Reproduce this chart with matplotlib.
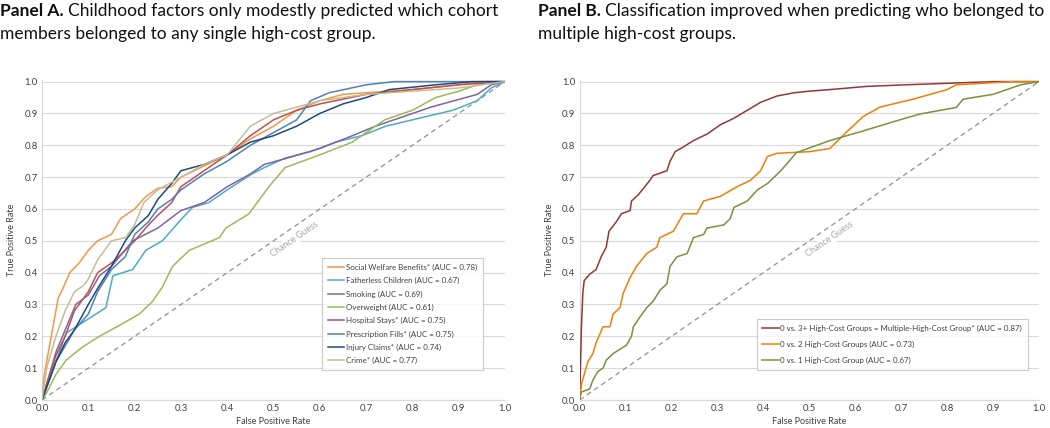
import matplotlib
matplotlib.use("Agg")
import matplotlib.pyplot as plt

plt.rcParams['font.family'] = ['Lato', 'DejaVu Sans']

# ---- Panel A data: ROC curves (false positive rate, true positive rate)
welfare_x = [0, 0.005, 0.01, 0.02, 0.03, 0.035, 0.045, 0.06, 0.08, 0.1, 0.12, 0.15, 0.17, 0.2, 0.225, 0.25, 0.28, 0.3, 0.35, 0.4, 0.45, 0.5, 0.55, 0.6, 0.65, 0.7, 0.8, 0.9, 0.95, 1.0]
welfare_y = [0, 0.08, 0.12, 0.2, 0.28, 0.32, 0.35, 0.40, 0.43, 0.47, 0.50, 0.52, 0.57, 0.60, 0.64, 0.665, 0.67, 0.70, 0.735, 0.77, 0.82, 0.86, 0.91, 0.94, 0.96, 0.965, 0.975, 0.99, 1.0, 1.0]

father_x = [0, 0.01, 0.03, 0.052, 0.095, 0.138, 0.153, 0.196, 0.224, 0.26, 0.296, 0.325, 0.36, 0.4, 0.453, 0.48, 0.525, 0.58, 0.634, 0.69, 0.742, 0.8, 0.887, 0.94, 0.97, 1.0]
father_y = [0, 0.04, 0.12, 0.21, 0.25, 0.29, 0.39, 0.41, 0.47, 0.50, 0.56, 0.605, 0.62, 0.66, 0.71, 0.73, 0.76, 0.78, 0.81, 0.83, 0.86, 0.88, 0.91, 0.94, 0.98, 1.0]

smoking_x = [0, 0.01, 0.03, 0.05, 0.073, 0.1, 0.124, 0.15, 0.196, 0.25, 0.3, 0.35, 0.4, 0.45, 0.48, 0.53, 0.6, 0.67, 0.72, 0.78, 0.84, 0.89, 0.94, 0.97, 1.0]
smoking_y = [0, 0.05, 0.15, 0.22, 0.30, 0.33, 0.39, 0.42, 0.50, 0.54, 0.595, 0.62, 0.67, 0.71, 0.74, 0.76, 0.79, 0.83, 0.86, 0.89, 0.92, 0.94, 0.96, 0.99, 1.0]

overweight_x = [0, 0.009, 0.03, 0.052, 0.088, 0.124, 0.174, 0.21, 0.239, 0.26, 0.282, 0.318, 0.383, 0.397, 0.447, 0.49, 0.525, 0.6, 0.67, 0.74, 0.8, 0.85, 0.9, 0.96, 1.0]
overweight_y = [0, 0.02, 0.08, 0.125, 0.167, 0.20, 0.24, 0.27, 0.31, 0.355, 0.42, 0.47, 0.51, 0.54, 0.585, 0.67, 0.73, 0.77, 0.81, 0.88, 0.91, 0.95, 0.97, 1.0, 1.0]

hospital_x = [0, 0.01, 0.03, 0.05, 0.07, 0.1, 0.12, 0.15, 0.18, 0.2, 0.23, 0.25, 0.28, 0.3, 0.35, 0.4, 0.45, 0.5, 0.55, 0.6, 0.7, 0.8, 0.9, 1.0]
hospital_y = [0, 0.05, 0.14, 0.2, 0.28, 0.34, 0.40, 0.43, 0.47, 0.50, 0.55, 0.58, 0.62, 0.67, 0.72, 0.77, 0.83, 0.88, 0.91, 0.93, 0.96, 0.975, 0.99, 1.0]

prescr_x = [0, 0.01, 0.03, 0.05, 0.07, 0.1, 0.12, 0.15, 0.18, 0.2, 0.23, 0.25, 0.28, 0.3, 0.35, 0.4, 0.45, 0.5, 0.55, 0.58, 0.62, 0.7, 0.76, 0.9, 1.0]
prescr_y = [0, 0.04, 0.12, 0.17, 0.22, 0.27, 0.34, 0.41, 0.45, 0.52, 0.56, 0.60, 0.63, 0.66, 0.71, 0.75, 0.80, 0.84, 0.88, 0.94, 0.965, 0.99, 1.0, 1.0, 1.0]

injury_x = [0, 0.01, 0.03, 0.05, 0.07, 0.1, 0.12, 0.15, 0.18, 0.2, 0.23, 0.25, 0.28, 0.3, 0.35, 0.4, 0.45, 0.5, 0.55, 0.6, 0.65, 0.7, 0.75, 0.85, 0.93, 1.0]
injury_y = [0, 0.04, 0.12, 0.18, 0.22, 0.30, 0.35, 0.42, 0.50, 0.54, 0.58, 0.63, 0.68, 0.72, 0.74, 0.77, 0.81, 0.83, 0.86, 0.90, 0.93, 0.95, 0.975, 0.99, 1.0, 1.0]

crime_x = [0, 0.01, 0.02, 0.03, 0.05, 0.07, 0.09, 0.1, 0.12, 0.15, 0.18, 0.2, 0.22, 0.25, 0.3, 0.35, 0.4, 0.45, 0.5, 0.55, 0.6, 0.7, 0.8, 0.9, 1.0]
crime_y = [0, 0.1, 0.15, 0.2, 0.28, 0.34, 0.36, 0.38, 0.44, 0.50, 0.51, 0.55, 0.62, 0.66, 0.70, 0.74, 0.77, 0.86, 0.90, 0.92, 0.94, 0.96, 0.97, 0.98, 1.0]

series_a = [
    ("Social Welfare Benefits* (AUC = 0.78)", welfare_x, welfare_y, "#F79646"),
    ("Fatherless Children (AUC = 0.67)", father_x, father_y, "#4BACC6"),
    ("Smoking (AUC = 0.69)", smoking_x, smoking_y, "#8064A2"),
    ("Overweight (AUC = 0.61)", overweight_x, overweight_y, "#9BBB59"),
    ("Hospital Stays* (AUC = 0.75)", hospital_x, hospital_y, "#C0504D"),
    ("Prescription Fills* (AUC = 0.75)", prescr_x, prescr_y, "#4F81BD"),
    ("Injury Claims* (AUC = 0.74)", injury_x, injury_y, "#1F497D"),
    ("Crime* (AUC = 0.77)", crime_x, crime_y, "#C4BD97"),
]

# ---- Panel B data
g3_x = [0, 0.001, 0.004, 0.007, 0.01, 0.022, 0.036, 0.047, 0.058, 0.064, 0.08, 0.091, 0.11, 0.113, 0.128, 0.153, 0.16, 0.19, 0.197, 0.208, 0.226, 0.248, 0.277, 0.307, 0.336, 0.365, 0.394, 0.43, 0.467, 0.5, 0.545, 0.625, 0.71, 0.9, 1.0]
g3_y = [0, 0.05, 0.23, 0.335, 0.375, 0.395, 0.41, 0.45, 0.48, 0.53, 0.56, 0.585, 0.595, 0.625, 0.645, 0.69, 0.705, 0.72, 0.75, 0.78, 0.795, 0.815, 0.835, 0.865, 0.885, 0.91, 0.935, 0.955, 0.965, 0.97, 0.975, 0.985, 0.99, 1.0, 1.0]

g2_x = [0, 0.002, 0.004, 0.013, 0.018, 0.029, 0.036, 0.051, 0.066, 0.073, 0.088, 0.095, 0.11, 0.124, 0.146, 0.168, 0.175, 0.204, 0.226, 0.255, 0.27, 0.307, 0.343, 0.372, 0.394, 0.409, 0.43, 0.5, 0.545, 0.58, 0.617, 0.654, 0.726, 0.8, 0.82, 0.94, 1.0]
g2_y = [0, 0.02, 0.05, 0.095, 0.12, 0.146, 0.18, 0.23, 0.23, 0.27, 0.29, 0.335, 0.385, 0.42, 0.46, 0.48, 0.51, 0.53, 0.585, 0.585, 0.625, 0.64, 0.67, 0.69, 0.72, 0.765, 0.775, 0.78, 0.79, 0.84, 0.89, 0.92, 0.945, 0.975, 0.99, 1.0, 1.0]

g1_x = [0, 0.001, 0.004, 0.022, 0.029, 0.04, 0.051, 0.058, 0.073, 0.102, 0.113, 0.117, 0.131, 0.146, 0.16, 0.175, 0.19, 0.197, 0.212, 0.234, 0.248, 0.27, 0.277, 0.314, 0.328, 0.336, 0.365, 0.387, 0.409, 0.438, 0.472, 0.545, 0.617, 0.69, 0.74, 0.82, 0.835, 0.9, 0.96, 1.0]
g1_y = [0, 0.01, 0.025, 0.035, 0.063, 0.09, 0.10, 0.125, 0.146, 0.172, 0.20, 0.23, 0.26, 0.29, 0.31, 0.345, 0.365, 0.42, 0.45, 0.46, 0.51, 0.52, 0.54, 0.55, 0.57, 0.605, 0.625, 0.66, 0.68, 0.72, 0.777, 0.815, 0.845, 0.877, 0.898, 0.919, 0.945, 0.96, 0.99, 1.0]

series_b = [
    ("0 vs. 3+ High-Cost Groups = Multiple-High-Cost Group* (AUC = 0.87)", g3_x, g3_y, "#953735"),
    ("0 vs. 2 High-Cost Groups (AUC = 0.73)", g2_x, g2_y, "#F07F09"),
    ("0 vs. 1 High-Cost Group (AUC = 0.67)", g1_x, g1_y, "#77933C"),
]

ticks = [0.0, 0.1, 0.2, 0.3, 0.4, 0.5, 0.6, 0.7, 0.8, 0.9, 1.0]

fig = plt.figure(figsize=(10.5, 4.28), dpi=100)
ax_a = fig.add_axes([0.040, 0.0654, 0.441, 0.7476])
ax_b = fig.add_axes([0.552, 0.0654, 0.4375, 0.7476])


def style_axes(ax):
    ax.set_xlim(0, 1)
    ax.set_ylim(0, 1.005)
    ax.set_xticks(ticks)
    ax.set_yticks(ticks)
    ax.set_xticklabels(["%.1f" % t for t in ticks])
    ax.set_yticklabels(["%.1f" % t for t in ticks])
    ax.tick_params(labelsize=6.8, colors="#404040", length=0, pad=3)
    ax.grid(axis="y", color="#d9d9d9", linewidth=0.8)
    ax.set_axisbelow(True)
    for s in ["top", "right"]:
        ax.spines[s].set_visible(False)
    for s in ["left", "bottom"]:
        ax.spines[s].set_color("#d9d9d9")
    ax.set_xlabel("False Positive Rate", fontsize=6.5, color="#404040", labelpad=3)
    ax.set_ylabel("True Positive Rate", fontsize=6.5, color="#404040", labelpad=6)
    ax.plot([0, 1], [0, 1], linestyle=(0, (4, 3)), color="#909090", linewidth=0.9, zorder=1)
    ax.text(0.545, 0.505, "Chance Guess", rotation=34.5, fontsize=6.5, color="#a6a6a6",
            ha="center", va="center", rotation_mode="anchor", zorder=1.5,
            bbox=dict(facecolor="white", edgecolor="none", pad=0.5))


style_axes(ax_a)
style_axes(ax_b)

for label, xs, ys, c in series_a:
    ax_a.plot(xs, ys, color=c, linewidth=1.1, label=label, zorder=3)
for label, xs, ys, c in series_b:
    ax_b.plot(xs, ys, color=c, linewidth=1.1, label=label, zorder=3)

leg_kw = dict(fontsize=5.7, frameon=True, fancybox=False, edgecolor="#bfbfbf",
              handlelength=2.1, handletextpad=0.2, borderpad=0.7)
la = ax_a.legend(loc="lower right", bbox_to_anchor=(0.96, 0.082), labelspacing=0.78, **leg_kw)
lb = ax_b.legend(loc="lower right", bbox_to_anchor=(0.984, 0.082), labelspacing=1.15, **leg_kw)
for lg in (la, lb):
    lg.get_frame().set_linewidth(0.8)
    for t in lg.get_texts():
        t.set_color("#404040")

# titles
fig.canvas.draw()
renderer = fig.canvas.get_renderer()


def panel_title(x, head, line1, line2):
    h = fig.text(x, 0.963, head, fontsize=12.5, fontweight="bold", color="#111111", va="baseline")
    bb = h.get_window_extent(renderer)
    x2 = (bb.x1 + 4) / fig.bbox.width
    fig.text(x2, 0.963, line1, fontsize=12.5, color="#111111", va="baseline")
    fig.text(x, 0.908, line2, fontsize=12.5, color="#111111", va="baseline")


panel_title(0.0, "Panel A.", "Childhood factors only modestly predicted which cohort",
            "members belonged to any single high-cost group.")
panel_title(0.5125, "Panel B.", "Classification improved when predicting who belonged to",
            "multiple high-cost groups.")

fig.savefig("out.png", dpi=100)
